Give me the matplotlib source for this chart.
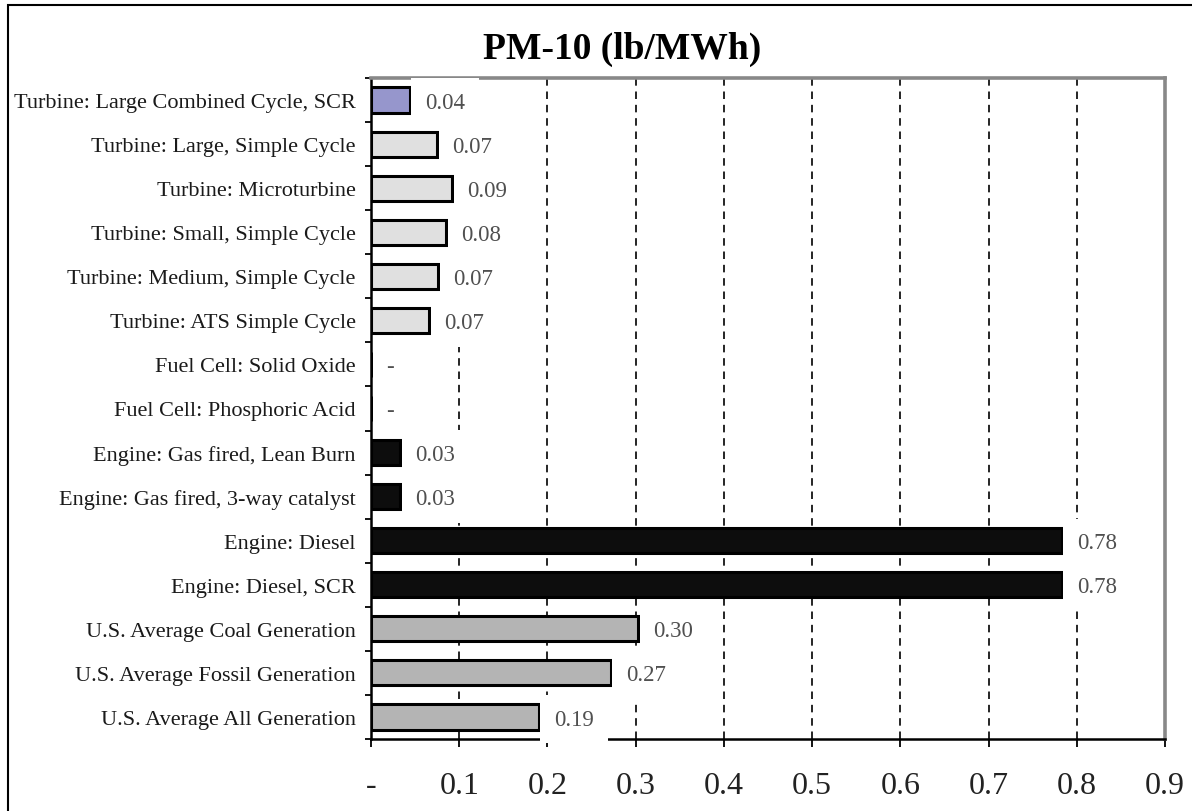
"""PM-10 emissions by generation technology (lb/MWh), horizontal bar chart."""
import matplotlib
matplotlib.use("Agg")
import matplotlib.pyplot as plt
from matplotlib.patches import Rectangle
from matplotlib.ticker import FixedLocator, MultipleLocator


CATEGORIES = [
    "Turbine: Large Combined Cycle, SCR",
    "Turbine: Large, Simple Cycle",
    "Turbine: Microturbine",
    "Turbine: Small, Simple Cycle",
    "Turbine: Medium, Simple Cycle",
    "Turbine: ATS Simple Cycle",
    "Fuel Cell: Solid Oxide",
    "Fuel Cell: Phosphoric Acid",
    "Engine: Gas fired, Lean Burn",
    "Engine: Gas fired, 3-way catalyst",
    "Engine: Diesel",
    "Engine: Diesel, SCR",
    "U.S. Average Coal Generation",
    "U.S. Average Fossil Generation",
    "U.S. Average All Generation",
]
VALUES = [0.044, 0.075, 0.092, 0.085, 0.076, 0.066, 0.0, 0.0,
          0.033, 0.033, 0.783, 0.783, 0.303, 0.272, 0.190]
VALUE_LABELS = ["0.04", "0.07", "0.09", "0.08", "0.07", "0.07", "-", "-",
                "0.03", "0.03", "0.78", "0.78", "0.30", "0.27", "0.19"]
GROUPS = ["ccgt", "turbine", "turbine", "turbine", "turbine", "turbine",
          "fuelcell", "fuelcell", "engine", "engine", "engine", "engine",
          "grid", "grid", "grid"]
X_TICKS = [0.0, 0.1, 0.2, 0.3, 0.4, 0.5, 0.6, 0.7, 0.8, 0.9]
X_TICK_LABELS = ["-", "0.1", "0.2", "0.3", "0.4", "0.5", "0.6", "0.7", "0.8", "0.9"]

GROUP_COLORS = {
    "ccgt": "#9696cc",
    "turbine": "#e0e0e0",
    "fuelcell": "#e0e0e0",
    "engine": "#0d0d0d",
    "grid": "#b4b4b4",
}

W, H = 1192, 812


def main():
    plt.rcParams["font.family"] = ["Liberation Serif", "DejaVu Serif"]
    fig = plt.figure(figsize=(W / 100, H / 100), dpi=100)
    ax = fig.add_axes([371 / W, 1 - 740 / H, (1165 - 371) / W, (740 - 79) / H])
    ax.set_axisbelow(True)

    ypos = list(range(len(CATEGORIES)))
    colors = [GROUP_COLORS[g] for g in GROUPS]
    ax.barh(ypos, VALUES, height=0.57, color=colors, edgecolor="black",
            linewidth=2.2, zorder=2)

    for y, v, lab in zip(ypos, VALUES, VALUE_LABELS):
        ax.annotate(lab, (v, y), xytext=(11, -1.5), textcoords="offset points",
                    ha="left", va="center", fontsize=16.5, color="#505050",
                    bbox=dict(boxstyle="square,pad=0.6", fc="white", ec="none"),
                    zorder=4)

    ax.set_xlim(0, 0.9)
    ax.set_ylim(len(CATEGORIES) - 0.5, -0.5)

    ax.xaxis.set_major_locator(FixedLocator(X_TICKS))
    ax.set_xticklabels(X_TICK_LABELS)
    ax.tick_params(axis="x", direction="out", length=6, width=1.3,
                   labelsize=23, pad=17, colors="black", labelcolor="#222222")

    ax.set_yticks(ypos)
    ax.set_yticklabels(CATEGORIES)
    ax.yaxis.set_minor_locator(MultipleLocator(1.0, offset=0.5))
    ax.tick_params(axis="y", which="major", length=0, pad=11, labelsize=16,
                   labelcolor="#1a1a1a")
    ax.tick_params(axis="y", which="minor", direction="out", length=4.5,
                   width=1.3, color="black")

    ax.xaxis.grid(True, color="black", linewidth=1.2, linestyle=(0, (4.5, 3.5)))
    ax.yaxis.grid(False)

    for side in ("left", "bottom"):
        ax.spines[side].set_color("black")
        ax.spines[side].set_linewidth(1.8)
    for side in ("top", "right"):
        ax.spines[side].set_color("#888888")
        ax.spines[side].set_linewidth(2.6)

    fig.text(622 / W, 1 - 49 / H, "PM-10 (lb/MWh)", ha="center", va="center",
             fontsize=27, fontweight="bold")

    fig.patches.append(Rectangle((8 / W, -0.05), 1.1, 1 - 6 / H + 0.05,
                                 transform=fig.transFigure, fill=False,
                                 edgecolor="black", linewidth=1.5))

    fig.savefig("out.png", dpi=100)


if __name__ == "__main__":
    main()
